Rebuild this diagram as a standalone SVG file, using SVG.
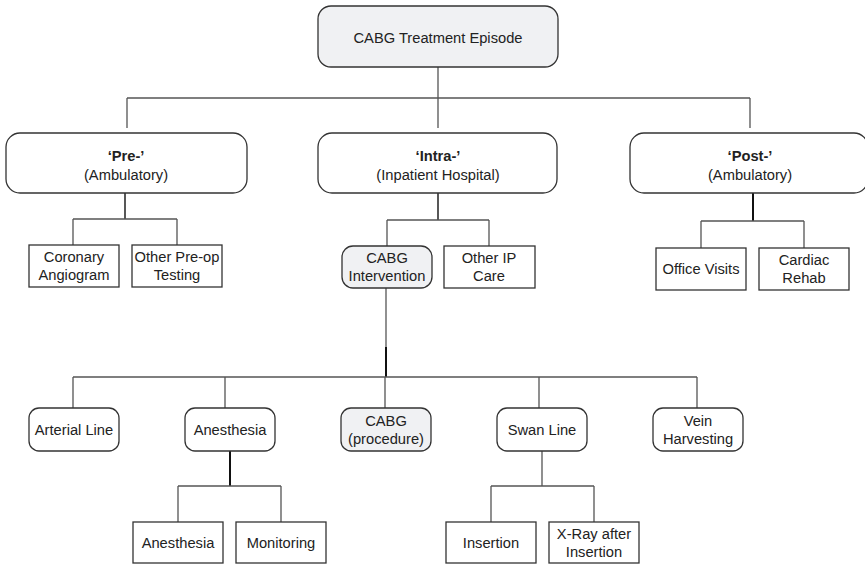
<svg xmlns="http://www.w3.org/2000/svg" width="865" height="565" viewBox="0 0 865 565">
  <style>
    text { font-family: "Liberation Sans", Arial, sans-serif; font-size: 14.7px; fill: #222; text-anchor: middle; }
    .b { font-weight: bold; }
    .box { fill: #fff; stroke: #333; stroke-width: 1.3; }
    .grey { fill: #f0f1f3; }
    .ln { fill: none; stroke: #555; stroke-width: 1.3; }
    .dk { fill: none; stroke: #111; stroke-width: 2; }
  </style>
  <rect width="865" height="565" fill="#fff"/>

  <g id="connectors">
    <!-- root to phases -->
    <path class="ln" d="M438 67V128M127 98H750M127 98V128M750 98V128"/>
    <!-- pre -->
    <path class="dk" d="M125 193V219" style="stroke-width:1.4"/>
    <path class="ln" d="M73 219H177M73 219V245M177 219V245"/>
    <!-- intra -->
    <path class="dk" d="M438 193V220" style="stroke-width:1.4"/>
    <path class="ln" d="M387 220H489M387 220V246M489 220V246"/>
    <!-- post -->
    <path class="dk" d="M753 193V221"/>
    <path class="ln" d="M701 221H804M701 221V248M804 221V248"/>
    <!-- intervention to components -->
    <path class="ln" d="M386 288V347"/>
    <path class="dk" d="M386 347V377"/>
    <path class="ln" d="M73 377H697M73 377V408M225 377V408M385 377V408M539 377V408M697 377V408"/>
    <!-- anesthesia -->
    <path class="dk" d="M230 451V486"/>
    <path class="ln" d="M178 486H281M178 486V522M281 486V522"/>
    <!-- swan line -->
    <path class="ln" d="M542 451V486M491 486H594M491 486V522M594 486V522"/>
  </g>

  <g id="root">
    <rect class="box grey" x="318" y="6" width="240" height="61" rx="13"/>
    <text x="438" y="43">CABG Treatment Episode</text>
  </g>

  <g id="pre">
    <rect class="box" x="6" y="133" width="241" height="60" rx="14"/>
    <text class="b" x="126" y="161">‘Pre-’</text>
    <text x="126" y="180">(Ambulatory)</text>
  </g>
  <g id="intra">
    <rect class="box" x="318" y="133" width="239" height="60" rx="14"/>
    <text class="b" x="438" y="161">‘Intra-’</text>
    <text x="438" y="180">(Inpatient Hospital)</text>
  </g>
  <g id="post">
    <rect class="box" x="630" y="133" width="238" height="60" rx="14"/>
    <text class="b" x="750" y="161">‘Post-’</text>
    <text x="750" y="180">(Ambulatory)</text>
  </g>

  <g id="coronary-angiogram">
    <rect class="box" x="29" y="245" width="90" height="42"/>
    <text x="74" y="262">Coronary</text>
    <text x="74" y="280">Angiogram</text>
  </g>
  <g id="other-preop">
    <rect class="box" x="132" y="245" width="90" height="42"/>
    <text x="177" y="262">Other Pre-op</text>
    <text x="177" y="280">Testing</text>
  </g>

  <g id="cabg-intervention">
    <rect class="box grey" x="342" y="246" width="90" height="42" rx="11"/>
    <text x="387" y="263">CABG</text>
    <text x="387" y="281">Intervention</text>
  </g>
  <g id="other-ip-care">
    <rect class="box" x="444" y="246" width="91" height="42"/>
    <text x="489" y="263">Other IP</text>
    <text x="489" y="281">Care</text>
  </g>

  <g id="office-visits">
    <rect class="box" x="656" y="248" width="90" height="42"/>
    <text x="701" y="274">Office Visits</text>
  </g>
  <g id="cardiac-rehab">
    <rect class="box" x="759" y="248" width="90" height="42"/>
    <text x="804" y="265">Cardiac</text>
    <text x="804" y="283">Rehab</text>
  </g>

  <g id="arterial-line">
    <rect class="box" x="29" y="408" width="90" height="43" rx="10"/>
    <text x="74" y="435">Arterial Line</text>
  </g>
  <g id="anesthesia">
    <rect class="box" x="185" y="408" width="90" height="43" rx="10"/>
    <text x="230" y="435">Anesthesia</text>
  </g>
  <g id="cabg-procedure">
    <rect class="box grey" x="341" y="408" width="90" height="43" rx="10"/>
    <text x="386" y="426">CABG</text>
    <text x="386" y="444">(procedure)</text>
  </g>
  <g id="swan-line">
    <rect class="box" x="497" y="408" width="90" height="43" rx="10"/>
    <text x="542" y="435">Swan Line</text>
  </g>
  <g id="vein-harvesting">
    <rect class="box" x="653" y="408" width="90" height="43" rx="10"/>
    <text x="698" y="426">Vein</text>
    <text x="698" y="444">Harvesting</text>
  </g>

  <g id="anesthesia-sub">
    <rect class="box" x="133" y="522" width="90" height="41"/>
    <text x="178" y="548">Anesthesia</text>
  </g>
  <g id="monitoring">
    <rect class="box" x="236" y="522" width="90" height="41"/>
    <text x="281" y="548">Monitoring</text>
  </g>
  <g id="insertion">
    <rect class="box" x="446" y="522" width="90" height="41"/>
    <text x="491" y="548">Insertion</text>
  </g>
  <g id="xray-after-insertion">
    <rect class="box" x="549" y="522" width="90" height="41"/>
    <text x="594" y="539">X-Ray after</text>
    <text x="594" y="557">Insertion</text>
  </g>
</svg>
